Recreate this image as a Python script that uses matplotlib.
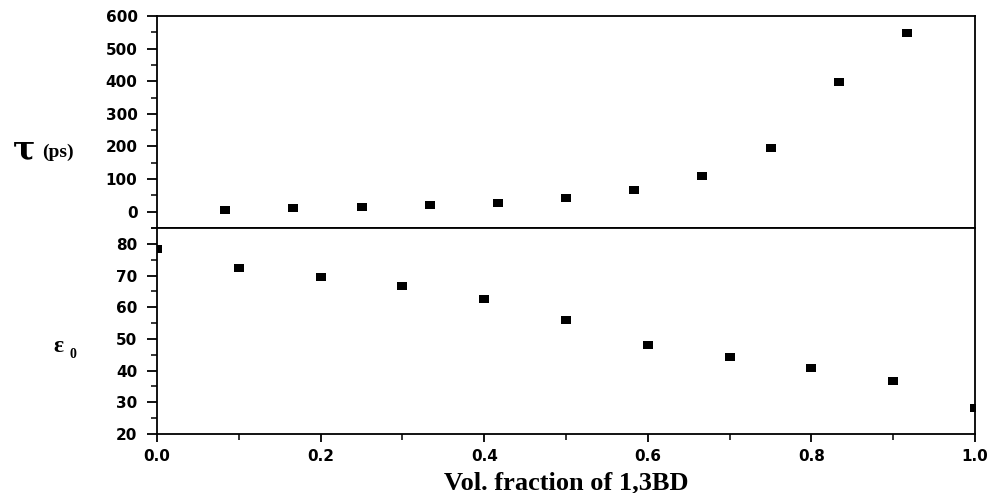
import matplotlib
matplotlib.use("Agg")
import matplotlib.pyplot as plt
from matplotlib.ticker import MultipleLocator
from matplotlib.path import Path

# gornji panel: relaksaciono vrijeme tau (ps)
x_tau = [1/12, 2/12, 3/12, 4/12, 5/12, 6/12, 7/12, 8/12, 9/12, 10/12, 11/12]
tau = [5, 10, 14, 19, 27, 43, 67, 110, 196, 398, 547]

# donji panel: staticka dielektricna konstanta eps0
x_eps = [0.0, 0.1, 0.2, 0.3, 0.4, 0.5, 0.6, 0.7, 0.8, 0.9, 1.0]
eps0 = [78.4, 72.3, 69.6, 66.7, 62.5, 55.9, 48.1, 44.2, 40.8, 36.8, 28.1]

x_ticks = [0.0, 0.2, 0.4, 0.6, 0.8, 1.0]
x_tick_labels = ["0.0", "0.2", "0.4", "0.6", "0.8", "1.0"]

# pravougaoni marker, siri nego visok
rect = Path([(-1.45, -1), (1.45, -1), (1.45, 1), (-1.45, 1), (-1.45, -1)],
            [Path.MOVETO, Path.LINETO, Path.LINETO, Path.LINETO, Path.CLOSEPOLY])

fig = plt.figure(figsize=(9.93, 4.93), dpi=100)
L, R = 157 / 993, 975 / 993
y_top, y_mid, y_bot = 1 - 16 / 493, 1 - 228 / 493, 1 - 434 / 493
ax1 = fig.add_axes([L, y_mid, R - L, y_top - y_mid])
ax2 = fig.add_axes([L, y_bot, R - L, y_mid - y_bot], sharex=ax1)

for ax in (ax1, ax2):
    for s in ax.spines.values():
        s.set_linewidth(1.3)
    ax.tick_params(axis="y", which="major", direction="out", length=7, width=1.3,
                   right=False, pad=7)
    ax.tick_params(axis="y", which="minor", direction="out", length=4, width=1.1,
                   right=False)

mk = dict(linestyle="none", marker=rect, markersize=7.5, color="black",
          markeredgewidth=0)

ax1.plot(x_tau, tau, **mk)
ax1.set_ylim(-50, 600)
ax1.yaxis.set_major_locator(MultipleLocator(100))
ax1.yaxis.set_minor_locator(MultipleLocator(50))
ax1.tick_params(axis="x", which="both", bottom=False, labelbottom=False)

ax2.plot(x_eps, eps0, **mk)
ax2.set_ylim(20, 85)
ax2.set_xlim(0, 1)
ax2.yaxis.set_major_locator(MultipleLocator(10))
ax2.yaxis.set_minor_locator(MultipleLocator(5))
ax2.set_xticks(x_ticks)
ax2.set_xticklabels(x_tick_labels)
ax2.xaxis.set_minor_locator(MultipleLocator(0.1))
ax2.tick_params(axis="x", which="major", direction="out", length=6, width=1.3,
                top=False, pad=5)
ax2.tick_params(axis="x", which="minor", direction="out", length=4, width=1.1,
                top=False)

for ax in (ax1, ax2):
    for lab in ax.get_yticklabels() + ax.get_xticklabels():
        lab.set_fontweight("bold")
        lab.set_fontsize(11)

ax2.set_xlabel("Vol. fraction of 1,3BD", fontfamily="Liberation Serif",
               fontweight="bold", fontsize=19, labelpad=5)

# oznake y osa kao slobodan tekst (kao u originalu)
fig.text(13 / 993, 1 - 150 / 493, "\u03c4", fontfamily="DejaVu Serif",
         fontweight="bold", fontsize=24, va="center", ha="left")
fig.text(42 / 993, 1 - 152 / 493, "(ps)", fontfamily="Liberation Serif",
         fontweight="bold", fontsize=14, va="center", ha="left")
fig.text(53 / 993, 1 - 346 / 493, "\u03b5", fontfamily="Liberation Serif",
         fontweight="bold", fontsize=17, va="center", ha="left")
fig.text(70 / 993, 1 - 354 / 493, "0", fontfamily="Liberation Serif",
         fontweight="bold", fontsize=10, va="center", ha="left")

plt.savefig("out.png", dpi=100)
